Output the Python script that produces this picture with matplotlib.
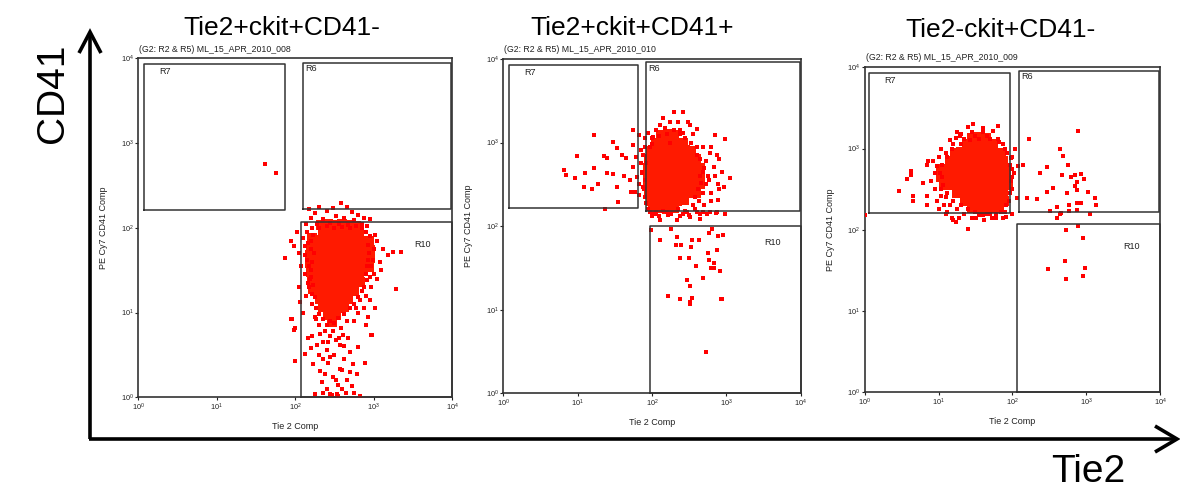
import numpy as np
import matplotlib
matplotlib.use("Agg")
import matplotlib.pyplot as plt
from matplotlib.ticker import NullLocator

plt.rcParams['font.family'] = ['Liberation Sans', 'DejaVu Sans']
plt.rcParams['mathtext.fontset'] = 'custom'
plt.rcParams['mathtext.rm'] = 'Liberation Sans'
plt.rcParams['mathtext.it'] = 'Liberation Sans:italic'
plt.rcParams['mathtext.bf'] = 'Liberation Sans:bold'

# ---------------------------------------------------------------- data
titles = ["Tie2+ckit+CD41-", "Tie2+ckit+CD41+", "Tie2-ckit+CD41-"]
samples = ["ML_15_APR_2010_008", "ML_15_APR_2010_010", "ML_15_APR_2010_009"]
decades = [1, 10, 100, 1000, 10000]
tick_labels = [r"$10^{0}$", r"$10^{1}$", r"$10^{2}$", r"$10^{3}$", r"$10^{4}$"]

# gates: name -> (tie2 low, tie2 high, cd41 low, cd41 high)
gates_p1 = {"R7": (1.19, 75, 163, 8500), "R6": (125, 9700, 166, 8900), "R10": (118, 10000, 1, 118)}
gates_p2 = {"R7": (1.19, 64, 166, 8500), "R6": (83, 9900, 152, 9100), "R10": (94, 10000, 1, 100)}
gates_p3 = {"R7": (1.16, 94, 162, 8500), "R6": (124, 9800, 166, 9100), "R10": (117, 10000, 1, 117)}

# events as (log10 Tie2, log10 CD41)
# dense centre of each cloud
p1_core = [
    (2.33, 2.03), (2.42, 2.04), (2.51, 2.03), (2.60, 2.04), (2.69, 2.03), (2.78, 2.02),
    (2.36, 1.95), (2.45, 1.94), (2.54, 1.95), (2.63, 1.94), (2.72, 1.95), (2.81, 1.93),
    (2.31, 1.86), (2.40, 1.85), (2.49, 1.86), (2.58, 1.85), (2.67, 1.86), (2.76, 1.85), (2.86, 1.85),
    (2.29, 1.76), (2.38, 1.75), (2.47, 1.76), (2.56, 1.76), (2.65, 1.75), (2.74, 1.76), (2.83, 1.75), (2.90, 1.77),
    (2.28, 1.66), (2.37, 1.66), (2.46, 1.65), (2.55, 1.66), (2.64, 1.66), (2.73, 1.65), (2.82, 1.66), (2.88, 1.65),
    (2.27, 1.56), (2.36, 1.56), (2.45, 1.55), (2.54, 1.56), (2.63, 1.56), (2.72, 1.55), (2.81, 1.56), (2.87, 1.56),
    (2.28, 1.46), (2.37, 1.46), (2.46, 1.45), (2.55, 1.46), (2.64, 1.46), (2.73, 1.45), (2.82, 1.46),
    (2.30, 1.36), (2.39, 1.36), (2.48, 1.35), (2.57, 1.36), (2.66, 1.36), (2.75, 1.35), (2.83, 1.36),
    (2.30, 1.26), (2.39, 1.26), (2.48, 1.25), (2.57, 1.26), (2.66, 1.26), (2.75, 1.25),
    (2.32, 1.16), (2.41, 1.16), (2.50, 1.15), (2.59, 1.16), (2.68, 1.16),
    (2.36, 1.06), (2.45, 1.06), (2.54, 1.05), (2.62, 1.06),
    (2.42, 0.97), (2.52, 0.97), (2.47, 0.89),
    (2.21, 1.88), (2.20, 1.78), (2.19, 1.68), (2.19, 1.58), (2.20, 1.48), (2.22, 1.38), (2.23, 1.28),
    (2.94, 1.84), (2.96, 1.74), (2.95, 1.64), (2.94, 1.54),
]
p1_spread = [
    (1.62, 2.75), (1.76, 2.65),
    (2.18, 2.22), (2.25, 2.18), (2.30, 2.24), (2.40, 2.20), (2.48, 2.23), (2.59, 2.29), (2.66, 2.25),
    (2.72, 2.19), (2.80, 2.15), (2.88, 2.12), (2.95, 2.10), (2.20, 2.12), (2.35, 2.10), (2.52, 2.14),
    (2.62, 2.12), (2.75, 2.09), (2.85, 2.05), (2.28, 2.05), (2.45, 2.06), (2.56, 2.04), (2.68, 2.03),
    (2.92, 2.02), (2.14, 2.05), (2.22, 2.00),
    (1.87, 1.64), (1.95, 1.85), (1.98, 1.78), (2.02, 1.95), (2.05, 1.70), (2.08, 1.55), (2.10, 1.88),
    (2.12, 1.45), (2.15, 1.62), (2.18, 1.30), (2.20, 1.75), (2.14, 1.20), (2.22, 1.10), (2.05, 1.30),
    (2.10, 1.00), (1.95, 0.92), (1.99, 0.80), (2.00, 0.43), (2.17, 0.70), (2.20, 1.50), (2.16, 1.82),
    (2.23, 1.92), (2.12, 1.68), (2.19, 1.40), (2.21, 1.22), (2.06, 1.12),
    (2.95, 1.90), (3.00, 1.75), (3.05, 1.85), (3.08, 1.60), (3.12, 1.75), (3.18, 1.68), (3.25, 1.72),
    (3.35, 1.71), (3.29, 1.28), (3.00, 1.45), (2.97, 1.30), (3.05, 1.40), (2.95, 1.15), (3.02, 1.05),
    (2.93, 0.95), (2.97, 0.73), (2.90, 0.85), (2.93, 1.62), (2.97, 1.55), (2.92, 1.38), (3.10, 1.50),
    (2.90, 1.20), (2.88, 1.05), (2.80, 1.00), (2.75, 0.90),
    (2.13, 0.51), (2.23, 0.39), (2.32, 0.31), (2.42, 0.41), (2.48, 0.24), (2.55, 0.15), (2.66, 0.21),
    (2.74, 0.39), (2.79, 0.27), (2.89, 0.41), (2.34, 0.18), (2.25, 0.04), (2.45, 0.04), (2.83, 0.02),
    (2.53, 0.04), (2.28, 0.62), (2.41, 0.56), (2.57, 0.62), (2.70, 0.53), (2.22, 0.72), (2.45, 0.72),
    (2.61, 0.74), (2.80, 0.59), (2.36, 0.45), (2.57, 0.33), (2.98, 0.74), (1.96, 0.92), (2.00, 0.82),
    (2.30, 0.85), (2.38, 0.78), (2.50, 0.88), (2.58, 0.82), (2.66, 0.90), (2.27, 0.92), (2.35, 0.65),
    (2.50, 0.50), (2.62, 0.45), (2.52, 0.68), (2.68, 0.70), (2.47, 0.03), (2.55, 0.02), (2.60, 0.10),
    (2.40, 0.10), (2.73, 0.13),
    (2.15, 1.95), (2.20, 1.85), (2.24, 1.70), (2.22, 1.60), (2.20, 1.42), (2.23, 1.32), (2.25, 1.18),
    (2.27, 1.05), (2.30, 0.98), (2.35, 0.92), (2.45, 0.90), (2.55, 0.93), (2.62, 0.98), (2.70, 1.05),
    (2.75, 1.10), (2.80, 1.18), (2.85, 1.25), (2.88, 1.30), (2.90, 1.45), (2.92, 1.55), (2.94, 1.70),
    (2.93, 1.80), (2.90, 1.95), (2.85, 2.00), (2.30, 2.00), (2.40, 2.02), (2.50, 2.00), (2.60, 2.01),
    (2.70, 2.00), (2.78, 2.02), (2.18, 1.55), (2.16, 1.35), (2.13, 1.78), (2.96, 1.42), (2.99, 1.62),
    (3.02, 1.92), (2.83, 1.15), (2.78, 1.05), (2.25, 0.95), (2.40, 0.85), (2.32, 0.75), (2.48, 0.78),
    (2.56, 0.70), (2.42, 0.65), (2.62, 0.60), (2.30, 0.50), (2.45, 0.48), (2.20, 0.58), (2.60, 0.32),
    (2.38, 0.28), (2.70, 0.30), (2.52, 0.20), (2.65, 0.05), (2.35, 0.05), (2.75, 0.05),
]

p2_core = [
    (2.12, 3.09), (2.21, 3.10), (2.30, 3.09),
    (2.06, 3.00), (2.15, 3.01), (2.24, 2.99), (2.33, 3.00), (2.42, 3.00),
    (1.99, 2.90), (2.08, 2.91), (2.17, 2.90), (2.26, 2.89), (2.35, 2.90), (2.44, 2.91), (2.53, 2.90),
    (1.96, 2.80), (2.05, 2.81), (2.14, 2.80), (2.23, 2.79), (2.32, 2.80), (2.41, 2.81), (2.50, 2.80), (2.59, 2.80),
    (1.94, 2.70), (2.03, 2.71), (2.12, 2.70), (2.21, 2.69), (2.30, 2.70), (2.39, 2.71), (2.48, 2.70), (2.56, 2.70),
    (2.64, 2.70),
    (1.94, 2.60), (2.03, 2.61), (2.12, 2.60), (2.21, 2.59), (2.30, 2.60), (2.39, 2.61), (2.48, 2.60), (2.57, 2.60),
    (2.65, 2.60),
    (1.94, 2.50), (2.03, 2.51), (2.12, 2.50), (2.21, 2.49), (2.30, 2.50), (2.39, 2.51), (2.48, 2.50), (2.56, 2.50),
    (2.64, 2.50),
    (1.96, 2.40), (2.05, 2.41), (2.14, 2.40), (2.23, 2.39), (2.32, 2.40), (2.41, 2.41), (2.50, 2.40), (2.59, 2.40),
    (1.98, 2.30), (2.07, 2.31), (2.16, 2.30), (2.25, 2.29), (2.34, 2.30), (2.43, 2.31),
    (2.02, 2.22), (2.11, 2.22), (2.20, 2.21), (2.29, 2.22),
]
p2_spread = [
    (0.82, 2.67), (0.85, 2.61), (0.96, 2.58), (0.99, 2.84), (1.10, 2.64), (1.09, 2.47), (1.19, 2.45),
    (1.22, 3.09), (1.22, 2.69), (1.28, 2.51), (1.35, 2.84), (1.40, 2.64), (1.40, 2.81), (1.47, 3.01),
    (1.48, 2.62), (1.53, 2.47), (1.54, 2.29), (1.53, 2.94), (1.59, 2.85), (1.62, 2.60), (1.65, 2.81),
    (1.70, 2.55), (1.72, 2.41), (1.74, 3.15), (1.74, 2.97), (1.75, 2.71), (1.77, 2.41), (1.78, 2.83),
    (1.80, 2.59), (1.37, 2.20), (1.83, 3.09), (1.85, 2.91), (1.86, 2.63), (1.88, 2.47), (1.82, 2.37),
    (2.85, 3.09), (2.98, 3.04), (2.87, 2.85), (3.05, 2.58), (2.94, 2.65), (2.97, 2.47), (2.89, 2.31),
    (2.69, 2.95), (2.60, 3.16), (2.51, 3.21), (2.78, 2.87), (2.83, 2.71), (2.89, 2.51), (2.98, 2.15),
    (2.86, 2.16), (2.74, 2.15), (2.65, 2.09), (2.51, 2.11), (2.42, 2.15), (2.33, 2.07), (2.22, 2.13),
    (2.11, 2.07), (2.00, 2.15), (2.24, 2.99), (2.11, 3.21), (2.24, 3.25), (2.37, 3.15), (2.02, 3.07),
    (1.97, 2.95), (2.30, 3.36), (2.42, 3.36),
    (1.90, 2.95), (1.92, 2.75), (1.90, 2.55), (1.91, 2.35), (1.95, 2.20), (2.60, 2.85), (2.65, 2.60),
    (2.62, 2.45), (2.58, 2.35), (2.55, 2.25), (2.45, 2.18), (2.35, 2.20), (2.15, 2.18), (2.05, 2.15),
    (2.45, 3.05), (2.38, 3.10), (2.20, 3.10), (2.10, 3.08), (2.00, 3.05), (2.70, 2.70), (2.72, 2.50),
    (2.68, 2.40), (2.75, 2.60), (2.80, 2.40), (1.97, 2.17), (2.06, 2.17), (2.20, 2.17), (2.47, 2.17),
    (2.60, 2.17), (2.69, 2.17), (2.78, 2.17), (2.87, 2.17),
    (1.90, 3.05), (1.88, 2.85), (1.87, 2.65), (1.89, 2.45), (1.92, 2.28), (2.00, 2.12), (2.10, 2.12),
    (2.25, 2.14), (2.38, 2.12), (2.50, 2.13), (2.58, 2.20), (2.63, 2.30), (2.66, 2.52), (2.68, 2.65),
    (2.65, 2.80), (2.60, 2.95), (2.52, 3.00), (2.42, 3.12), (2.30, 3.15), (2.18, 3.18), (2.05, 3.15),
    (1.95, 3.12), (2.72, 2.78), (2.76, 2.55), (2.80, 2.30), (2.70, 2.25), (2.65, 2.15), (2.55, 3.10),
    (2.48, 3.25), (2.35, 3.25), (2.15, 3.30), (2.00, 2.98), (1.85, 2.75), (1.83, 2.50), (2.85, 2.60),
    (2.90, 2.45), (2.80, 2.95), (2.90, 2.80),
    (1.99, 1.95), (2.11, 1.83), (2.26, 1.97), (2.33, 1.87), (2.32, 1.78), (2.39, 1.78), (2.54, 1.83),
    (2.53, 1.75), (2.63, 1.83), (2.76, 1.92), (2.81, 1.97), (2.89, 1.88), (2.95, 1.89), (2.87, 1.72),
    (2.75, 1.68), (2.38, 1.62), (2.50, 1.62), (2.77, 1.60), (2.83, 1.56), (2.59, 1.52), (2.79, 1.50),
    (2.84, 1.50), (2.91, 1.46), (2.47, 1.36), (2.68, 1.38), (2.51, 1.28), (2.22, 1.17), (2.38, 1.13),
    (2.54, 1.14), (2.51, 1.09), (2.51, 1.07), (2.93, 1.13), (2.94, 1.13), (2.72, 0.50),
]

p3_core = [
    (1.46, 3.13), (1.55, 3.14), (1.64, 3.13),
    (1.38, 3.05), (1.47, 3.06), (1.56, 3.05), (1.65, 3.04), (1.74, 3.05),
    (1.22, 2.95), (1.31, 2.96), (1.40, 2.95), (1.49, 2.94), (1.58, 2.95), (1.67, 2.96), (1.76, 2.95), (1.84, 2.95),
    (1.16, 2.85), (1.25, 2.86), (1.34, 2.85), (1.43, 2.84), (1.52, 2.85), (1.61, 2.86), (1.70, 2.85), (1.79, 2.84),
    (1.88, 2.85),
    (1.03, 2.75), (1.11, 2.75), (1.20, 2.76), (1.29, 2.75), (1.38, 2.74), (1.47, 2.75), (1.56, 2.76), (1.65, 2.75),
    (1.74, 2.74), (1.83, 2.75), (1.92, 2.75),
    (1.03, 2.65), (1.11, 2.65), (1.20, 2.66), (1.29, 2.65), (1.38, 2.64), (1.47, 2.65), (1.56, 2.66), (1.65, 2.65),
    (1.74, 2.64), (1.83, 2.65), (1.92, 2.65),
    (1.07, 2.55), (1.15, 2.55), (1.24, 2.56), (1.33, 2.55), (1.42, 2.54), (1.51, 2.55), (1.60, 2.56), (1.69, 2.55),
    (1.78, 2.54), (1.87, 2.55), (1.94, 2.55),
    (1.25, 2.45), (1.34, 2.46), (1.43, 2.45), (1.52, 2.44), (1.61, 2.45), (1.70, 2.46), (1.79, 2.45), (1.88, 2.45),
    (1.36, 2.35), (1.45, 2.36), (1.54, 2.35), (1.63, 2.34), (1.72, 2.35), (1.81, 2.36), (1.89, 2.35),
    (1.46, 2.27), (1.55, 2.27), (1.64, 2.26), (1.73, 2.27), (1.82, 2.27),
]
p3_spread = [
    (0.46, 2.48), (0.57, 2.62), (0.63, 2.72), (0.63, 2.67), (0.66, 2.41), (0.66, 2.36), (0.79, 2.58),
    (0.84, 2.41), (0.85, 2.31), (0.86, 2.85), (0.85, 2.80), (0.98, 2.78), (1.03, 3.00), (1.04, 2.41),
    (1.08, 2.31), (1.11, 2.22), (1.20, 2.12), (1.24, 2.10), (1.18, 2.14), (1.24, 3.13), (1.29, 3.15),
    (1.40, 3.27), (1.47, 3.30), (1.60, 3.25), (1.74, 3.21), (1.81, 3.28), (1.51, 2.14), (1.60, 2.18),
    (1.72, 2.14), (1.92, 2.16), (1.99, 2.20), (1.40, 2.01), (0.00, 2.18),
    (2.04, 3.00), (2.07, 2.78), (2.14, 2.80), (2.22, 3.12), (2.37, 2.70), (2.47, 2.77), (2.06, 2.39),
    (2.20, 2.39), (2.33, 2.38), (2.47, 2.46), (2.55, 2.51), (2.65, 2.99), (2.69, 2.91), (2.75, 2.80),
    (2.67, 2.67), (2.80, 2.65), (2.85, 2.67), (2.89, 3.21), (2.93, 2.69), (2.97, 2.62), (2.88, 2.59),
    (2.87, 2.49), (2.85, 2.54), (2.74, 2.45), (2.77, 2.31), (2.87, 2.33), (2.93, 2.33), (3.03, 2.46),
    (3.12, 2.39), (3.13, 2.31), (2.60, 2.28), (2.51, 2.23), (2.65, 2.20), (2.77, 2.23), (2.87, 2.24),
    (3.05, 2.19), (2.61, 2.15), (2.66, 2.21),
    (2.72, 2.00), (2.89, 2.05), (2.96, 1.90), (2.71, 1.61), (2.48, 1.52), (2.99, 1.53), (2.73, 1.39),
    (2.96, 1.43),
    (1.00, 2.90), (1.05, 2.65), (1.03, 2.50), (1.10, 2.40), (1.15, 2.30), (1.25, 2.25), (1.35, 2.20),
    (1.55, 2.18), (1.70, 2.20), (1.85, 2.22), (1.92, 2.30), (1.97, 2.45), (1.98, 2.60), (1.97, 2.80),
    (1.93, 2.95), (1.88, 3.05), (1.80, 3.12), (1.65, 3.15), (1.50, 3.15), (1.35, 3.12), (1.20, 3.05),
    (1.10, 2.95), (0.95, 2.70), (2.00, 2.90), (2.02, 2.70), (1.30, 3.18),
    (1.05, 2.80), (1.02, 2.70), (1.06, 2.55), (1.12, 2.45), (1.20, 2.35), (1.30, 2.30), (1.40, 2.25),
    (1.50, 2.22), (1.65, 2.20), (1.78, 2.20), (1.90, 2.22), (1.95, 2.35), (1.99, 2.50), (2.00, 2.65),
    (2.00, 2.75), (1.98, 2.88), (1.90, 3.00), (1.82, 3.08), (1.70, 3.12), (1.55, 3.12), (1.42, 3.10),
    (1.30, 3.05), (1.18, 3.00), (1.12, 2.90), (0.92, 2.85), (0.90, 2.60), (0.95, 2.50), (0.98, 2.35),
    (1.00, 2.25), (1.10, 2.20), (1.28, 2.15), (1.45, 2.15), (1.62, 2.12), (1.78, 2.14), (1.88, 2.15),
    (2.00, 2.20), (1.60, 3.20), (1.45, 3.20), (1.25, 3.20), (1.15, 3.10),
]

cores = [p1_core, p2_core, p3_core]
spreads = [p1_spread, p2_spread, p3_spread]
gates = [gates_p1, gates_p2, gates_p3]

# ---------------------------------------------------------------- layout (pixels)
W, H = 1180, 491
panel_px = [(138.3, 58.3, 452.0, 397.3), (503.3, 59.0, 800.7, 393.3), (864.7, 67.3, 1160.0, 392.3)]
title_px = [(281.5, 35), (632, 35), (1001, 37)]
header_y = [52, 52, 60.5]


def fx(x):
    return x / W


def fy(y):
    return 1 - y / H


fig = plt.figure(figsize=(W / 100, H / 100), dpi=100)

over = fig.add_axes([0, 0, 1, 1])
over.set_xlim(0, W)
over.set_ylim(H, 0)
over.axis('off')
arrow_kw = dict(color='black', lw=2.6, solid_capstyle='butt', solid_joinstyle='miter')
over.plot([90, 90], [439, 33], **arrow_kw)
over.plot([79, 90, 101], [53, 32, 53], **arrow_kw)
over.plot([89, 1176], [439, 439], **arrow_kw)
over.plot([1155, 1177, 1155], [426, 439, 452], **arrow_kw)

fig.text(fx(53), fy(93), "CD41", rotation=90, fontsize=28, ha='center', va='center')
fig.text(fx(1088), fy(482), "Tie2", fontsize=28, ha='center', va='baseline')

for i in range(3):
    l, t, r, b = panel_px[i]
    ax = fig.add_axes([fx(l), fy(b), (r - l) / W, (b - t) / H])
    ax.set_xscale('log')
    ax.set_yscale('log')
    ax.set_xlim(1, 1e4)
    ax.set_ylim(1, 1e4)
    ax.set_xticks(decades, tick_labels)
    ax.set_yticks(decades, tick_labels)
    ax.xaxis.set_minor_locator(NullLocator())
    ax.yaxis.set_minor_locator(NullLocator())
    ax.tick_params(length=2.2, width=0.8, pad=1.2, labelsize=5.3, colors='#222222')
    for sp in ax.spines.values():
        sp.set_linewidth(1.2)
        sp.set_color('#333333')

    ax.set_xlabel("Tie 2 Comp", fontsize=6.5, color='#222222')
    ax.set_ylabel("PE Cy7 CD41 Comp", fontsize=6.5, color='#222222')
    ax.xaxis.set_label_coords(0.5, -25 / (b - t))
    ax.yaxis.set_label_coords(-30 / (r - l), 0.5)

    core = 10 ** np.array(cores[i])
    spread = 10 ** np.array(spreads[i])
    ax.scatter(core[:, 0], core[:, 1], s=52, marker='s', c='#ff1a00', linewidths=0, zorder=2)
    ax.scatter(spread[:, 0], spread[:, 1], s=5, marker='s', c='#ff0000', linewidths=0, zorder=3)

    for name, (x0, x1, y0, y1) in gates[i].items():
        ax.plot([x0, x1, x1, x0, x0], [y0, y0, y1, y1, y0], color='#333333', lw=1.1,
                clip_on=False, zorder=4)
        if name == "R7":
            ax.annotate(name, (x0, y1), xytext=(11, -2), textcoords='offset points',
                        fontsize=6.5, ha='left', va='top', color='#222222')
        elif name == "R6":
            ax.annotate(name, (x0, y1), xytext=(1.5, -1), textcoords='offset points',
                        fontsize=6.5, ha='left', va='top', color='#222222')
        else:
            ax.text(10 ** 3.62, 10 ** 1.8, name, fontsize=6.5, ha='center', va='center',
                    color='#222222')

    fig.text(fx(l + 1), fy(header_y[i]), "(G2: R2 & R5) " + samples[i], fontsize=6.3,
             ha='left', va='baseline', color='#222222')
    fig.text(fx(title_px[i][0]), fy(title_px[i][1]), titles[i], fontsize=19,
             ha='center', va='baseline')

fig.savefig("out.png", dpi=100)
